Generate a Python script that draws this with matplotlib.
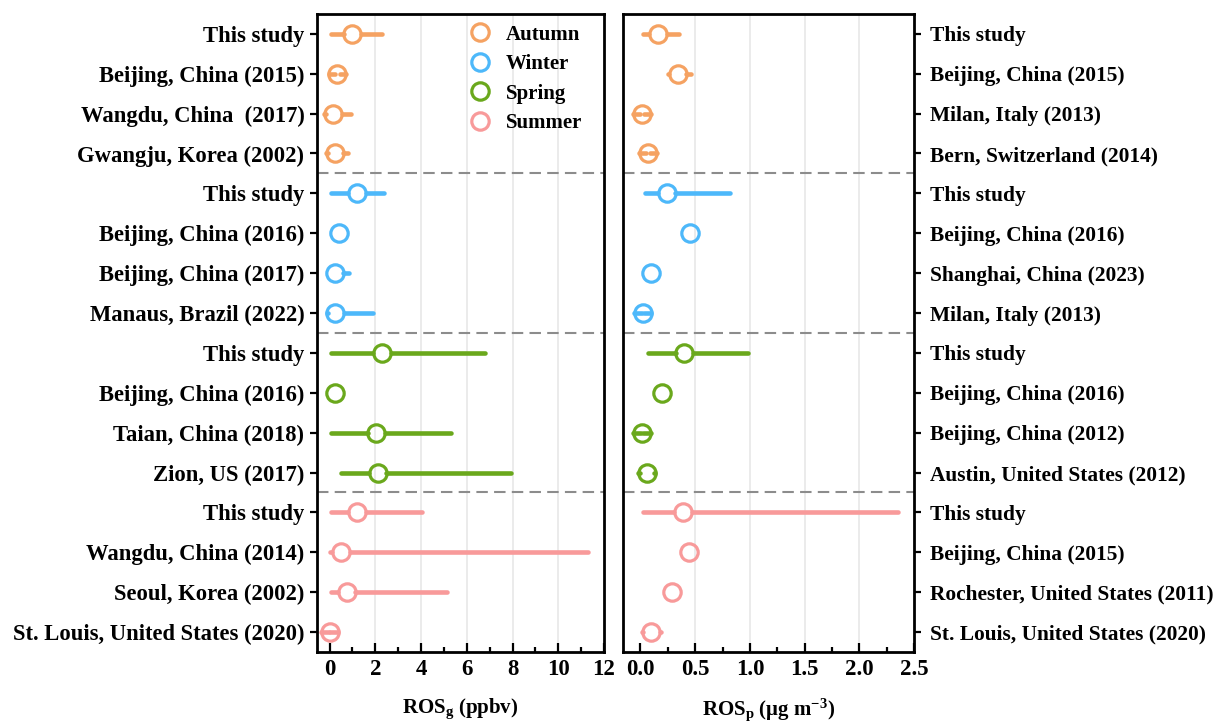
import numpy as np
import matplotlib
matplotlib.use("Agg")
import matplotlib.pyplot as plt
from matplotlib.lines import Line2D
from matplotlib.ticker import AutoMinorLocator

plt.rcParams["font.family"] = ["Liberation Serif", "DejaVu Serif"]
plt.rcParams["font.weight"] = "bold"
plt.rcParams["axes.labelweight"] = "bold"
plt.rcParams["mathtext.fontset"] = "custom"
plt.rcParams["mathtext.rm"] = "Liberation Serif:bold"
plt.rcParams["mathtext.bf"] = "Liberation Serif:bold"
plt.rcParams["mathtext.it"] = "Liberation Serif:bold"

seasons = ["Autumn", "Winter", "Spring", "Summer"]
season_colors = ["#F5A262", "#4DB8FA", "#6AA81C", "#F89A9A"]

# gas-phase ROS (ppbv): mean with lower / upper bound of the bar (None = no bar)
gas_sites = [
    "This study", "Beijing, China (2015)", "Wangdu, China  (2017)", "Gwangju, Korea (2002)",
    "This study", "Beijing, China (2016)", "Beijing, China (2017)", "Manaus, Brazil (2022)",
    "This study", "Beijing, China (2016)", "Taian, China (2018)", "Zion, US (2017)",
    "This study", "Wangdu, China (2014)", "Seoul, Korea (2002)", "St. Louis, United States (2020)",
]
gas_mean = [1.0, 0.34, 0.15, 0.22,
            1.2, 0.41, 0.22, 0.26,
            2.3, 0.22, 2.05, 2.1,
            1.2, 0.5, 0.75, 0.0]
gas_low = [0.05, 0.25, -0.15, -0.05,
           0.05, None, None, -0.05,
           0.05, None, 0.05, 0.5,
           0.05, 0.0, 0.05, -0.03]
gas_high = [2.3, 0.45, 0.93, 0.82,
            2.4, None, 0.86, 1.9,
            6.8, None, 5.3, 7.95,
            4.05, 11.3, 5.15, 0.03]

# particle-phase ROS (ug m-3)
particle_sites = [
    "This study", "Beijing, China (2015)", "Milan, Italy (2013)", "Bern, Switzerland (2014)",
    "This study", "Beijing, China (2016)", "Shanghai, China (2023)", "Milan, Italy (2013)",
    "This study", "Beijing, China (2016)", "Beijing, China (2012)", "Austin, United States (2012)",
    "This study", "Beijing, China (2015)", "Rochester, United States (2011)", "St. Louis, United States (2020)",
]
particle_mean = [0.16, 0.34, 0.015, 0.07,
                 0.24, 0.456, 0.098, 0.02,
                 0.40, 0.198, 0.015, 0.058,
                 0.39, 0.447, 0.286, 0.10]
particle_low = [0.02, 0.25, 0.0, 0.05,
                0.04, None, None, 0.01,
                0.07, None, 0.005, 0.0,
                0.02, None, None, 0.015]
particle_high = [0.35, 0.46, 0.03, 0.09,
                 0.82, None, None, 0.03,
                 0.98, None, 0.025, 0.12,
                 2.35, None, None, 0.185]

MS = 12.5      # marker size (pt)
MEW = 2.3
BAR_LW = 3.3

fig = plt.figure(figsize=(12.19, 7.21), dpi=100)
ax1 = fig.add_axes([0.260, 0.0957, 0.2355, 0.885])
ax2 = fig.add_axes([0.511, 0.0957, 0.239, 0.885])


def draw_panel(ax, sites, means, lows, highs, xlim, major, label_size, label_pad):
    rows = np.arange(1, len(sites) + 1)
    ax.set_xlim(*xlim)
    ax.set_ylim(16.5, 0.5)
    for xv in major[1:]:
        if xv < xlim[1] - 1e-9:
            ax.axvline(xv, color="#e8e8e8", lw=1.2, zorder=0)
    for yv in (4.5, 8.5, 12.5):
        ax.axhline(yv, color="#8c8c8c", lw=1.5, ls=(0, (5.5, 3)), zorder=1)

    # marker radius expressed in data units, so bars start at the circle edge
    px_per_unit = ax.transData.transform((1, 0))[0] - ax.transData.transform((0, 0))[0]
    r = MS / 2 * fig.dpi / 72 / px_per_unit

    for i, (y, m, lo, hi) in enumerate(zip(rows, means, lows, highs)):
        c = season_colors[i // 4]
        for bound, edge in ((lo, m - r), (hi, m + r)):
            if bound is None:
                continue
            ax.plot([edge, bound], [y, y], color=c, lw=BAR_LW,
                    solid_capstyle="round", zorder=2)
        ax.plot(m, y, "o", ms=MS, mfc="none", mec=c, mew=MEW, zorder=3)

    ax.set_xticks(major)
    ax.xaxis.set_minor_locator(AutoMinorLocator(2))
    ax.tick_params(axis="x", which="major", direction="in", length=6.5, width=1.6,
                   labelsize=16.5, pad=5)
    ax.tick_params(axis="x", which="minor", direction="in", length=3.5, width=1.6)
    ax.set_yticks(rows)
    ax.set_yticklabels(sites)
    ax.tick_params(axis="y", direction="out", length=5, width=1.6,
                   labelsize=label_size, pad=label_pad)
    for s in ax.spines.values():
        s.set_linewidth(2.0)


draw_panel(ax1, gas_sites, gas_mean, gas_low, gas_high, (-0.55, 12),
           np.arange(0, 13, 2), 16.3, 4)
draw_panel(ax2, particle_sites, particle_mean, particle_low, particle_high,
           (-0.16, 2.5), np.arange(0, 2.51, 0.5), 15.4, 6)
ax2.set_xticklabels([f"{v:.1f}" for v in np.arange(0, 2.51, 0.5)])
ax2.yaxis.tick_right()

ax1.set_xlabel(r"ROS$_{\mathbf{g}}$ (ppbv)", fontsize=15, labelpad=12)
ax2.set_xlabel(r"ROS$_{\mathbf{p}}$ (μg m$^{\mathbf{-3}}$)", fontsize=15, labelpad=12)

handles = [Line2D([], [], ls="none", marker="o", ms=MS, mfc="none", mec=c, mew=MEW)
           for c in season_colors]
ax1.legend(handles, seasons, loc="upper left", bbox_to_anchor=(0.53, 0.983),
           frameon=False, fontsize=15, handlelength=1.0, handletextpad=0.75,
           borderpad=0, borderaxespad=0, labelspacing=0.45)

fig.savefig("out.png", dpi=100)
